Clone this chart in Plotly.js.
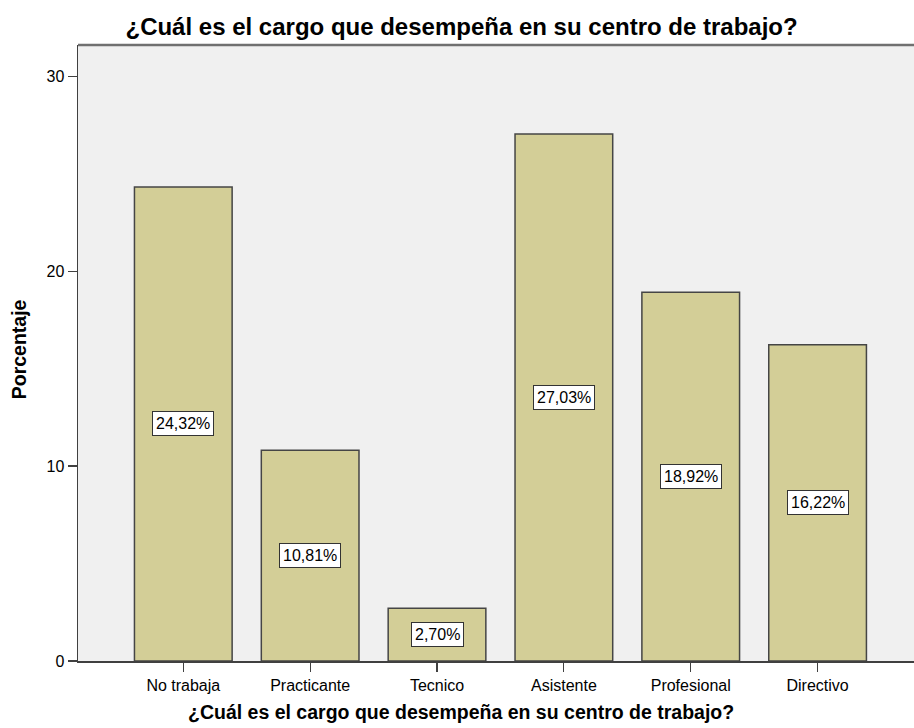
<!DOCTYPE html>
<html>
<head>
<meta charset="utf-8">
<script src="https://cdn.plot.ly/plotly-3.0.1.min.js"></script>
<style>html,body{margin:0;padding:0;background:#fff;}#chart{width:914px;height:728px;}</style>
</head>
<body>
<div id="chart"></div>
<script>
const categories = ["No trabaja", "Practicante", "Tecnico", "Asistente", "Profesional", "Directivo"];
const percentages = [24.32, 10.81, 2.70, 27.03, 18.92, 16.22];
const yTicks = [0, 10, 20, 30];
const chartTitle = '¿Cuál es el cargo que desempeña en su centro de trabajo?';
const xTitle = '¿Cuál es el cargo que desempeña en su centro de trabajo?';
const yTitle = 'Porcentaje';

const labelText = percentages.map(v => v.toFixed(2).replace('.', ',') + '%');
const FONT = 'Liberation Sans, Arial, sans-serif';

const trace = {
  type: 'bar',
  x: categories,
  y: percentages,
  marker: {color: '#D3CE97', line: {color: '#454545', width: 1.5}},
  hoverinfo: 'none'
};

const annotations = categories.map((c, i) => ({
  x: c, y: percentages[i] / 2, xref: 'x', yref: 'y',
  text: labelText[i], showarrow: false,
  font: {family: FONT, size: 16, color: '#000'},
  bgcolor: '#ffffff', bordercolor: '#333', borderwidth: 1, borderpad: 3
}));

annotations.push({
  xref: 'paper', yref: 'paper', x: 0.458, y: -0.082,
  xanchor: 'center', yanchor: 'middle', showarrow: false,
  text: xTitle, font: {family: FONT, size: 19.5, weight: 'bold', color: '#000'}
});
annotations.push({
  xref: 'paper', yref: 'paper', x: -0.0706, y: 0.506,
  xanchor: 'center', yanchor: 'middle', showarrow: false, textangle: -90,
  text: yTitle, font: {family: FONT, size: 19.5, weight: 'bold', color: '#000'}
});

const layout = {
  width: 914, height: 728,
  margin: {l: 78, r: 0, t: 45, b: 67},
  paper_bgcolor: '#ffffff',
  plot_bgcolor: '#F0F0F0',
  bargap: 0.23,
  showlegend: false,
  font: {family: FONT, color: '#000'},
  title: {
    text: chartTitle,
    font: {size: 24, family: FONT, weight: 'bold', color: '#000'},
    x: 0.505, xanchor: 'center', xref: 'container',
    y: 0.9636, yanchor: 'middle', yref: 'container'
  },
  xaxis: {
    type: 'category',
    range: [-0.83, 5.76],
    showgrid: false, zeroline: false,
    showline: true, linecolor: '#404040', linewidth: 1.5,
    ticks: 'outside', ticklen: 9, tickcolor: '#404040', tickwidth: 1.2,
    tickfont: {size: 16, color: '#000'}
  },
  yaxis: {
    range: [0, 31.6],
    tickvals: yTicks,
    ticktext: yTicks.map(String),
    showgrid: false, zeroline: false,
    showline: true, linecolor: '#404040', linewidth: 1.5,
    ticks: 'outside', ticklen: 9, tickcolor: '#404040', tickwidth: 1.2,
    tickfont: {size: 16, color: '#000'}
  },
  annotations: annotations,
  shapes: [{
    type: 'line', xref: 'paper', yref: 'paper', x0: 0, x1: 1, y0: 1, y1: 1,
    line: {color: '#707070', width: 2.5}
  }]
};

Plotly.newPlot('chart', [trace], layout, {displayModeBar: false, staticPlot: true});
</script>
</body>
</html>
